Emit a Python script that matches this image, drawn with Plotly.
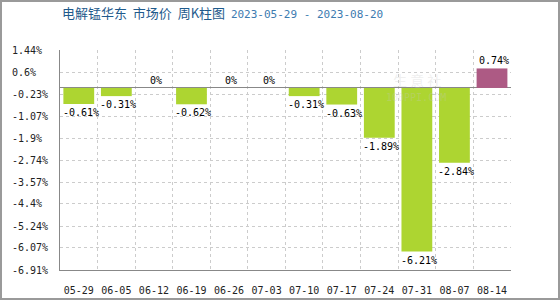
import plotly.graph_objects as go

categories = ["05-29", "06-05", "06-12", "06-19", "06-26", "07-03",
              "07-10", "07-17", "07-24", "07-31", "08-07", "08-14"]
values = [-0.61, -0.31, 0, -0.62, 0, 0, -0.31, -0.63, -1.89, -6.21, -2.84, 0.74]
ytick_vals = [1.44, 0.6, -0.23, -1.07, -1.9, -2.74, -3.57, -4.4, -5.24, -6.07, -6.91]
ytick_text = ["1.44%", "0.6%", "-0.23%", "-1.07%", "-1.9%", "-2.74%", "-3.57%",
              "-4.4%", "-5.24%", "-6.07%", "-6.91%"]
title_main = "电解锰华东  市场价  周K柱图"
title_dates = "2023-05-29 - 2023-08-20"

GREEN = "#add531"
PURPLE = "#ad5a84"
MONO = "DejaVu Sans Mono"

colors = [PURPLE if v > 0 else GREEN for v in values]

fig = go.Figure()
fig.add_trace(go.Bar(x=categories, y=values, marker=dict(color=colors, line=dict(width=0)),
                     width=0.82, hoverinfo="skip"))

L, R, T, B = 60, 49, 50, 30
W, H = 560 - L - R, 300 - T - B

annotations = []
for c, v in zip(categories, values):
    annotations.append(dict(x=c, y=v, xref="x", yref="y", text=f"{v:g}%",
                            showarrow=False, font=dict(family=MONO, size=10, color="#000"),
                            yanchor="top" if v < 0 else "bottom", xanchor="center",
                            xshift=2, yshift=-1 if v < 0 else 0))
for tv, tt in zip(ytick_vals, ytick_text):
    annotations.append(dict(x=-50 / W, y=tv, xref="paper", yref="y", text=tt,
                            showarrow=False, xanchor="left", yanchor="middle",
                            font=dict(family=MONO, size=10, color="#222")))
annotations.append(dict(x=0, y=(H + 37) / H, xref="paper", yref="paper",
                        text=f"<span style='font-family:Noto Sans CJK SC'>{title_main}</span>"
                             f"  <span style='color:#3d7bb0;font-family:{MONO};font-size:11px'>{title_dates}</span>",
                        showarrow=False, xanchor="left", yanchor="middle",
                        font=dict(family="Noto Sans CJK SC", size=13, color="#1e5a8c")))
# faint watermark
annotations.append(dict(x=0.85, y=0.92, xref="paper", yref="paper", text="生 意 社",
                        showarrow=False, font=dict(family="Noto Sans CJK SC", size=14, color="rgba(200,200,200,0.3)")))
annotations.append(dict(x=0.86, y=0.82, xref="paper", yref="paper", text="100PPI.COM",
                        showarrow=False, font=dict(family=MONO, size=10, color="rgba(200,200,200,0.3)")))

shapes = [dict(type="rect", xref="paper", yref="paper",
               x0=(1 - L) / W, x1=(559 - L) / W, y0=(H + T - 299) / H, y1=(H + T - 1) / H,
               line=dict(color="#9a9a9a", width=2), fillcolor="rgba(0,0,0,0)", layer="below")]

fig.update_layout(
    width=560, height=300,
    margin=dict(l=L, r=R, t=T, b=B, autoexpand=False),
    paper_bgcolor="white", plot_bgcolor="white",
    showlegend=False,
    bargap=0.18,
    annotations=annotations,
    shapes=shapes,
    xaxis=dict(type="category", tickson="boundaries", showgrid=True, griddash="3px,3px",
               gridcolor="#cccccc", gridwidth=1, showline=True, linecolor="#888888",
               linewidth=1, ticks="", tickangle=0, ticklabelstandoff=11, automargin=False,
               tickfont=dict(family=MONO, size=10, color="#222"),
               fixedrange=True),
    yaxis=dict(range=[-6.91, 1.44], tickvals=ytick_vals, showticklabels=False,
               showgrid=True, griddash="3px,3px", gridcolor="#cccccc", gridwidth=1,
               showline=True, linecolor="#888888", linewidth=1, zeroline=True,
               zerolinecolor="#888888", zerolinewidth=1, ticks="", fixedrange=True,
               automargin=False),
)

fig.write_html("out.html")
